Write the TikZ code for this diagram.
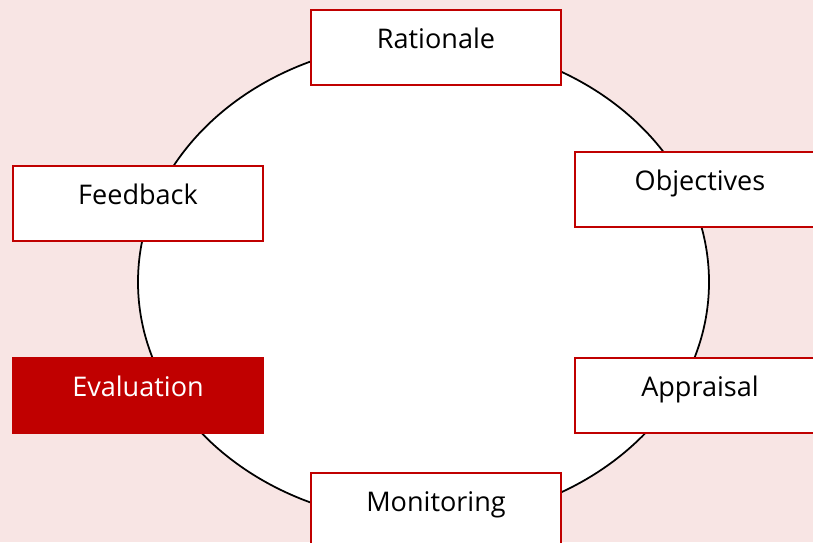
\documentclass[tikz,border=0pt]{standalone}
\usepackage{fontspec}
\setmainfont{Open Sans}
\definecolor{bgpink}{HTML}{F8E5E4}
\definecolor{boxred}{HTML}{C00000}

\begin{document}
\begin{tikzpicture}[x=0.02cm,y=-0.02cm]
\tikzstyle{stage}=[draw=boxred,line width=1.2pt,fill=white,inner sep=0pt,text width=5cm,align=center,text height=0.76cm,text depth=0.74cm,anchor=north,font=\fontsize{15.4}{18}\selectfont];
\tikzstyle{current}=[stage,fill=boxred,text=white];

\fill [bgpink] (0,0) rectangle (813,542);
\useasboundingbox (0,0) rectangle (813,542);
\clip (0,0) rectangle (813,542);

\coordinate (cyc) at (423.5,282);
\draw [line width=1pt,fill=white] (cyc) ellipse [x radius=285.5,y radius=240];

\node [stage] (rat) at (436,9) {Rationale};
\node [stage] (obj) at (700,151) {Objectives};
\node [stage] (app) at (700,357) {Appraisal};
\node [stage] (mon) at (436,472) {Monitoring};
\node [current] (eva) at (138,357) {Evaluation};
\node [stage] (fee) at (138,165) {Feedback};
\end{tikzpicture}
\end{document}
